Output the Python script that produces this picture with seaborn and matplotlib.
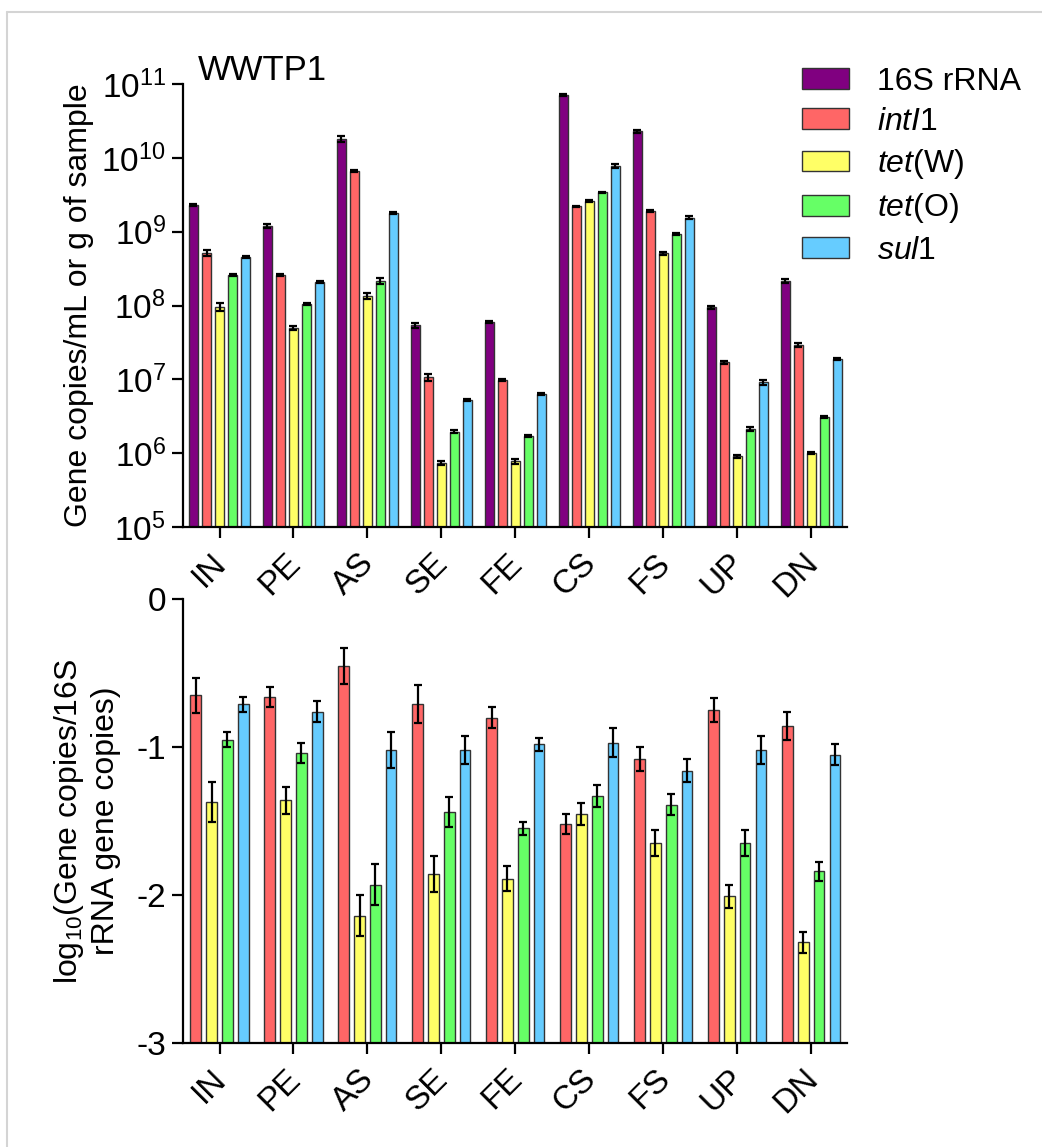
import matplotlib
matplotlib.use("Agg")
import matplotlib.pyplot as plt
import matplotlib.transforms as mtransforms
from matplotlib.lines import Line2D
import numpy as np
import pandas as pd
import seaborn as sns

SITES = ["IN", "PE", "AS", "SE", "FE", "CS", "FS", "UP", "DN"]
GENES = ["16S rRNA", "intI1", "tetW", "tetO", "sul1"]
LEGEND_LABELS = [
    "16S rRNA",
    r"$\mathit{intI}$1",
    r"$\mathit{tet}$(W)",
    r"$\mathit{tet}$(O)",
    r"$\mathit{sul}$1",
]
COLORS = ["#800080", "#FF6666", "#FFFF66", "#66FF66", "#66CCFF"]

# gene copies per mL or g of sample (one list per gene, entries follow SITES)
copies_16s = [2.3e9, 1.2e9, 1.8e10, 5.4e7, 6.0e7, 7.2e10, 2.3e10, 9.5e7, 2.15e8]
copies_intl1 = [5.2e8, 2.6e8, 6.6e9, 1.07e7, 9.8e6, 2.2e9, 1.9e9, 1.7e7, 2.95e7]
copies_tetw = [9.6e7, 5.0e7, 1.35e8, 7.4e5, 7.8e5, 2.6e9, 5.1e8, 9.1e5, 1.0e6]
copies_teto = [2.6e8, 1.05e8, 2.15e8, 1.95e6, 1.7e6, 3.4e9, 9.3e8, 2.15e6, 3.1e6]
copies_sul1 = [4.6e8, 2.1e8, 1.8e9, 5.2e6, 6.3e6, 7.8e9, 1.55e9, 9.1e6, 1.9e7]

# relative standard deviation of the copy numbers
rsd_16s = [0.03, 0.05, 0.10, 0.08, 0.03, 0.03, 0.05, 0.04, 0.05]
rsd_intl1 = [0.10, 0.03, 0.03, 0.10, 0.04, 0.03, 0.03, 0.04, 0.06]
rsd_tetw = [0.12, 0.06, 0.08, 0.07, 0.08, 0.04, 0.05, 0.04, 0.03]
rsd_teto = [0.03, 0.03, 0.10, 0.05, 0.03, 0.03, 0.03, 0.06, 0.04]
rsd_sul1 = [0.03, 0.03, 0.04, 0.03, 0.03, 0.06, 0.04, 0.07, 0.03]

# log10(gene copies / 16S rRNA gene copies)
rel_intl1 = [-0.65, -0.66, -0.45, -0.71, -0.80, -1.52, -1.08, -0.75, -0.86]
rel_tetw = [-1.37, -1.36, -2.14, -1.86, -1.89, -1.45, -1.65, -2.01, -2.32]
rel_teto = [-0.95, -1.04, -1.93, -1.44, -1.55, -1.33, -1.39, -1.65, -1.84]
rel_sul1 = [-0.71, -0.76, -1.02, -1.02, -0.98, -0.97, -1.16, -1.02, -1.05]

err_intl1 = [0.12, 0.07, 0.12, 0.13, 0.07, 0.07, 0.08, 0.08, 0.095]
err_tetw = [0.135, 0.09, 0.14, 0.12, 0.085, 0.075, 0.09, 0.077, 0.07]
err_teto = [0.05, 0.065, 0.14, 0.10, 0.045, 0.075, 0.07, 0.09, 0.065]
err_sul1 = [0.05, 0.07, 0.12, 0.095, 0.045, 0.10, 0.077, 0.095, 0.068]

TOP_BASE = 1e5
BOT_BASE = -3

sns.set_theme(style="ticks")
plt.rcParams["font.family"] = ["Liberation Sans", "DejaVu Sans"]
plt.rcParams["mathtext.fontset"] = "custom"
plt.rcParams["mathtext.rm"] = "Liberation Sans"
plt.rcParams["mathtext.it"] = "Liberation Sans:italic"
plt.rcParams["mathtext.bf"] = "Liberation Sans:bold"
plt.rcParams["axes.unicode_minus"] = False
for key in ["text.color", "axes.labelcolor", "xtick.color", "ytick.color"]:
    plt.rcParams[key] = "black"

TICK_FS = 24
LABEL_FS = 23


def style_axis(ax, fig):
    sns.despine(ax=ax)
    for side in ["left", "bottom"]:
        ax.spines[side].set_linewidth(1.6)
        ax.spines[side].set_color("black")
    ax.tick_params(axis="both", which="major", length=8, width=1.6,
                   color="black", labelsize=TICK_FS, pad=4.5)
    ax.tick_params(axis="y", which="minor", length=0)
    ax.set_xlim(-0.49, 8.48)
    ax.set_xlabel("")
    # nudge the slanted site labels a bit left
    shift = mtransforms.ScaledTranslation(-9 / 100, -3 / 100, fig.dpi_scale_trans)
    for lbl in ax.get_xticklabels():
        lbl.set_rotation(45)
        lbl.set_ha("right")
        lbl.set_rotation_mode("anchor")
        lbl.set_transform(lbl.get_transform() + shift)


def add_errorbars(ax, containers, errs, values, relative=False):
    for cont, err, vals in zip(containers, errs, values):
        xs = [p.get_x() + p.get_width() / 2 for p in cont.patches]
        ys = np.array(vals)
        yerr = ys * np.array(err) if relative else np.array(err)
        ax.errorbar(xs, ys, yerr=yerr, fmt="none", ecolor="black",
                    elinewidth=1.6, capsize=3, capthick=1.6, zorder=5)


fig = plt.figure(figsize=(10.42, 11.47), dpi=100)

# ---- top panel: absolute abundance
top_vals = [copies_16s, copies_intl1, copies_tetw, copies_teto, copies_sul1]
top_err = [rsd_16s, rsd_intl1, rsd_tetw, rsd_teto, rsd_sul1]
top_df = pd.DataFrame({
    "site": SITES * len(GENES),
    "gene": np.repeat(GENES, len(SITES)),
    "copies": np.concatenate(top_vals),
})
top_df["height"] = top_df["copies"] - TOP_BASE

ax1 = fig.add_axes([0.1759, 0.5405, 0.6367, 0.3862])
sns.barplot(data=top_df, x="site", y="height", hue="gene", order=SITES,
            hue_order=GENES, palette=COLORS, width=0.88, gap=0.31,
            edgecolor="#333333", linewidth=1, errorbar=None, legend=False,
            bottom=TOP_BASE, saturation=1, ax=ax1)
ax1.set_yscale("log")
ax1.set_ylim(1e5, 1e11)
ax1.set_yticks([10.0 ** k for k in range(5, 12)])
ax1.yaxis.set_major_formatter(matplotlib.ticker.LogFormatterSciNotation())
ax1.yaxis.set_minor_locator(matplotlib.ticker.NullLocator())
add_errorbars(ax1, ax1.containers, top_err, top_vals, relative=True)
style_axis(ax1, fig)
ax1.set_ylabel("Gene copies/mL or g of sample", fontsize=LABEL_FS)
ax1.yaxis.set_label_coords(-0.135, 0.5)
ax1.text(0.022, 1.009, "WWTP1", transform=ax1.transAxes, fontsize=25,
         ha="left", va="baseline")

fig.legend(ax1.containers, LEGEND_LABELS, loc="upper left",
           bbox_to_anchor=(0.7697, 0.9418), frameon=False, fontsize=23,
           handlelength=1.47, handleheight=0.63, handletextpad=0.88,
           labelspacing=0.32, borderpad=0, borderaxespad=0)

# ---- bottom panel: relative abundance
bot_vals = [rel_intl1, rel_tetw, rel_teto, rel_sul1]
bot_err = [err_intl1, err_tetw, err_teto, err_sul1]
bot_df = pd.DataFrame({
    "site": SITES * len(bot_vals),
    "gene": np.repeat(GENES[1:], len(SITES)),
    "rel": np.concatenate(bot_vals),
})
bot_df["height"] = bot_df["rel"] - BOT_BASE

ax2 = fig.add_axes([0.1759, 0.0909, 0.6367, 0.3866])
sns.barplot(data=bot_df, x="site", y="height", hue="gene", order=SITES,
            hue_order=GENES[1:], palette=COLORS[1:], width=0.856, gap=0.33,
            edgecolor="#333333", linewidth=1, errorbar=None, legend=False,
            bottom=BOT_BASE, saturation=1, ax=ax2)
ax2.set_ylim(-3, 0)
ax2.set_yticks([0, -1, -2, -3])
ax2.set_yticklabels(["0", "-1", "-2", "-3"])
add_errorbars(ax2, ax2.containers, bot_err, bot_vals)
style_axis(ax2, fig)
ax2.set_ylabel("log$_{10}$(Gene copies/16S\nrRNA gene copies)", fontsize=LABEL_FS)
ax2.yaxis.set_label_coords(-0.094, 0.5)

# light frame of the original figure panel
fig.add_artist(Line2D([7 / 1042, 1.0], [1 - 12 / 1147] * 2,
                      transform=fig.transFigure, color="#d4d4d4", lw=1.5))
fig.add_artist(Line2D([7 / 1042] * 2, [0.0, 1 - 12 / 1147],
                      transform=fig.transFigure, color="#d4d4d4", lw=1.5))

fig.savefig("out.png", dpi=100)
